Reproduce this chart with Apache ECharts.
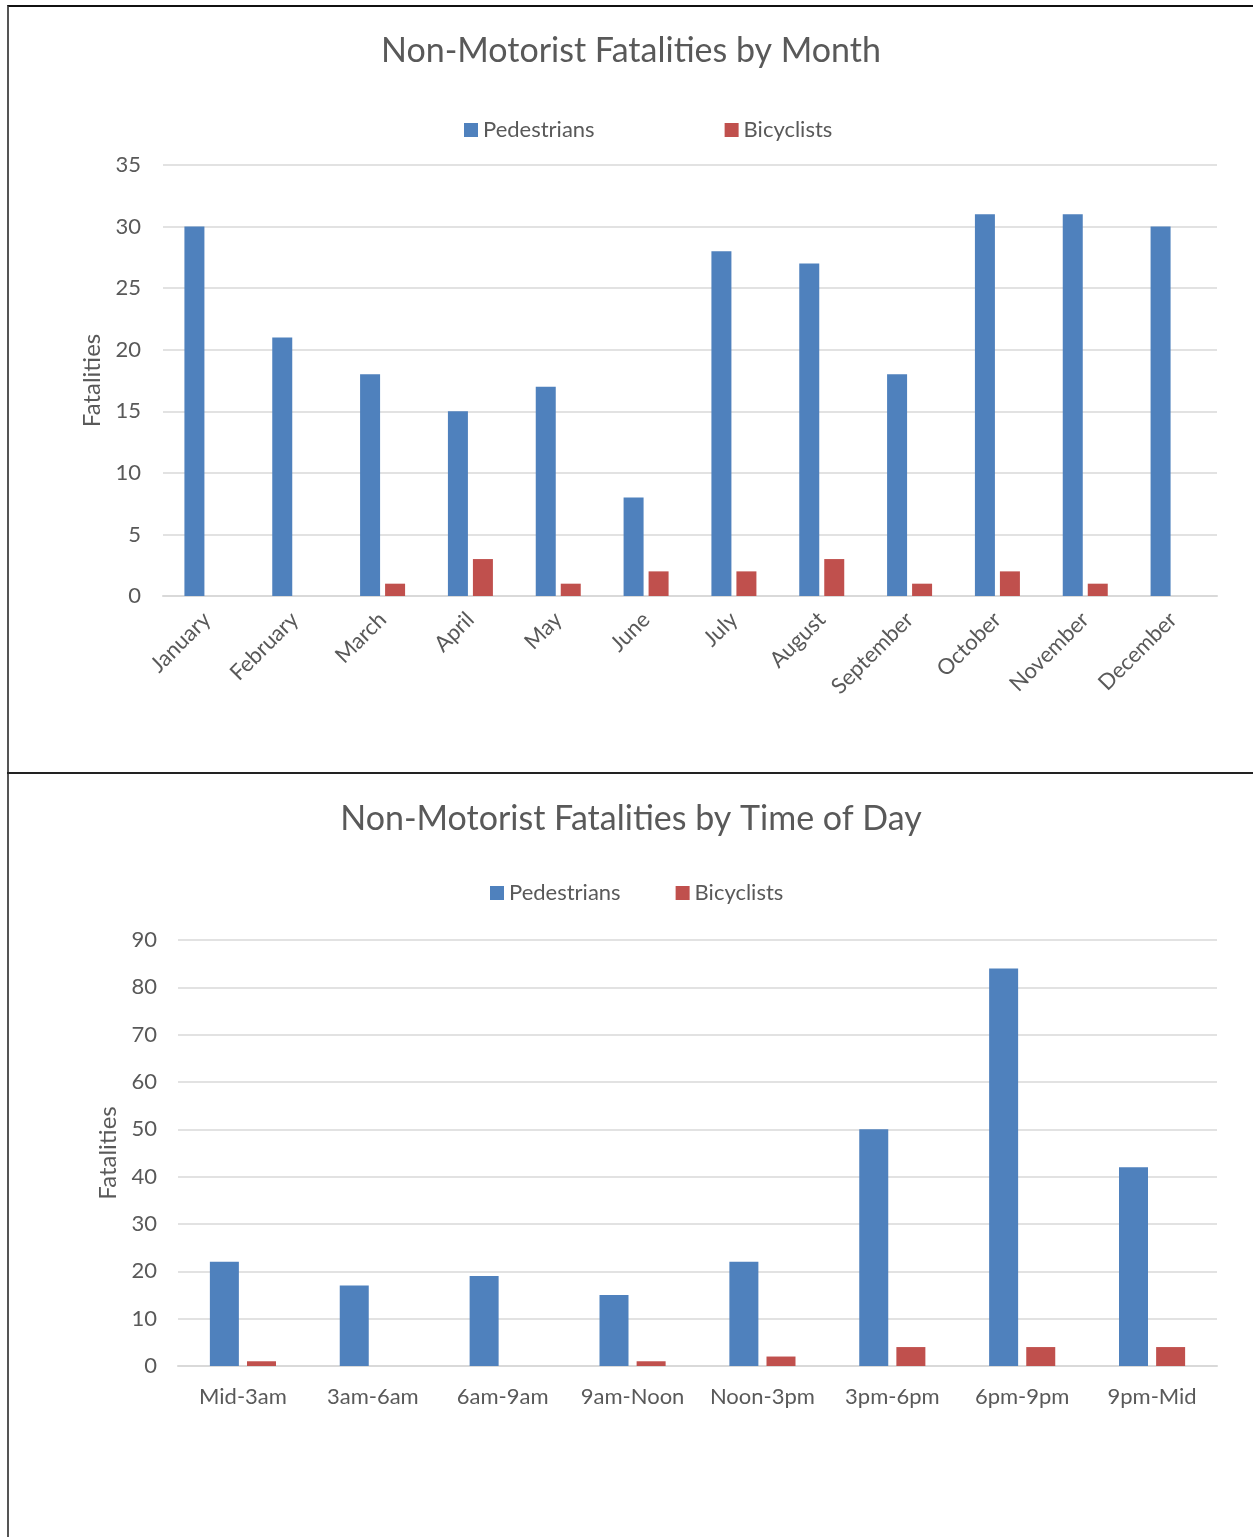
<!DOCTYPE html>
<html>
<head>
<meta charset="utf-8">
<script src="https://cdn.jsdelivr.net/npm/echarts@6/dist/echarts.min.js"></script>
<style>
  body { margin: 0; background: #fff; }
  #frame { position: absolute; left: 7px; top: 5px; width: 1246px; height: 1532px;
           border-left: 2px solid #555; border-top: 2px solid #111; }
  #divider { position: absolute; left: 7px; top: 772px; width: 1246px; height: 2px; background: #222; }
  #monthChart { position: absolute; left: 9px; top: 7px; width: 1244px; height: 765px; }
  #timeChart { position: absolute; left: 9px; top: 775px; width: 1244px; height: 762px; }
</style>
</head>
<body>
<div id="frame"></div>
<div id="divider"></div>
<div id="monthChart"></div>
<div id="timeChart"></div>
<script>
// chart data
const months = ['January', 'February', 'March', 'April', 'May', 'June', 'July',
                'August', 'September', 'October', 'November', 'December'];
const pedByMonth = [30, 21, 18, 15, 17, 8, 28, 27, 18, 31, 31, 30];
const bikeByMonth = [0, 0, 1, 3, 1, 2, 2, 3, 1, 2, 1, 0];

const timeSlots = ['Mid-3am', '3am-6am', '6am-9am', '9am-Noon', 'Noon-3pm', '3pm-6pm', '6pm-9pm', '9pm-Mid'];
const pedByTime = [22, 17, 19, 15, 22, 50, 84, 42];
const bikeByTime = [1, 0, 0, 1, 2, 4, 4, 4];

const FONT = 'Lato, "Open Sans", sans-serif';
const TEXT = '#595959';
const BLUE = '#4F81BD';
const RED = '#C0504D';

function makeOption(cfg){
    return {
        animation: false,
        textStyle: { fontFamily: FONT },
        title: {
            text: cfg.title,
            left: 'center',
            top: cfg.titleTop,
            textStyle: { fontFamily: FONT, fontSize: 34, fontWeight: 'normal', color: TEXT }
        },
        legend: {
            left: cfg.legendLeft,
            top: cfg.legendTop,
            padding: 0,
            icon: 'rect',
            itemWidth: 14,
            itemHeight: 14,
            itemGap: cfg.legendGap,
            textStyle: { fontFamily: FONT, fontSize: 22, color: TEXT },
            data: ['Pedestrians', 'Bicyclists']
        },
        grid: cfg.grid,
        xAxis: {
            type: 'category',
            data: cfg.categories,
            axisLine: { lineStyle: { color: '#D9D9D9', width: 2 } },
            axisTick: { show: false },
            axisLabel: {
                color: TEXT, fontFamily: FONT, fontSize: 22,
                rotate: cfg.rotate, margin: cfg.labelMargin, interval: 0
            }
        },
        yAxis: {
            type: 'value',
            min: 0,
            max: cfg.max,
            interval: cfg.step,
            name: 'Fatalities',
            nameLocation: 'middle',
            nameRotate: 90,
            nameGap: cfg.nameGap,
            nameTextStyle: { color: TEXT, fontFamily: FONT, fontSize: 24 },
            axisLine: { show: false },
            axisTick: { show: false },
            axisLabel: { color: TEXT, fontFamily: FONT, fontSize: 22, margin: cfg.yMargin },
            splitLine: { lineStyle: { color: '#D9D9D9', width: 1.5 } }
        },
        series: [
            {
                name: 'Pedestrians', type: 'bar', data: cfg.ped,
                barWidth: cfg.barWidth, barGap: cfg.barGap,
                itemStyle: { color: BLUE }
            },
            {
                name: 'Bicyclists', type: 'bar', data: cfg.bike,
                barWidth: cfg.barWidth,
                itemStyle: { color: RED }
            }
        ]
    };
}

const monthChart = echarts.init(document.getElementById('monthChart'));
monthChart.setOption(makeOption({
    title: 'Non-Motorist Fatalities by Month',
    titleTop: 22,
    legendLeft: 455, legendTop: 112, legendGap: 130,
    grid: { left: 154, right: 36, top: 158, bottom: 176 },
    categories: months, ped: pedByMonth, bike: bikeByMonth,
    max: 35, step: 5, rotate: 45, labelMargin: 20,
    nameGap: 58, yMargin: 22,
    barWidth: 20, barGap: '25%'
}));

const timeChart = echarts.init(document.getElementById('timeChart'));
timeChart.setOption(makeOption({
    title: 'Non-Motorist Fatalities by Time of Day',
    titleTop: 22,
    legendLeft: 481, legendTop: 107, legendGap: 55,
    grid: { left: 169, right: 36, top: 165, bottom: 171 },
    categories: timeSlots, ped: pedByTime, bike: bikeByTime,
    max: 90, step: 10, rotate: 0, labelMargin: 20,
    nameGap: 56, yMargin: 21,
    barWidth: 29, barGap: '28%'
}));
</script>
</body>
</html>
